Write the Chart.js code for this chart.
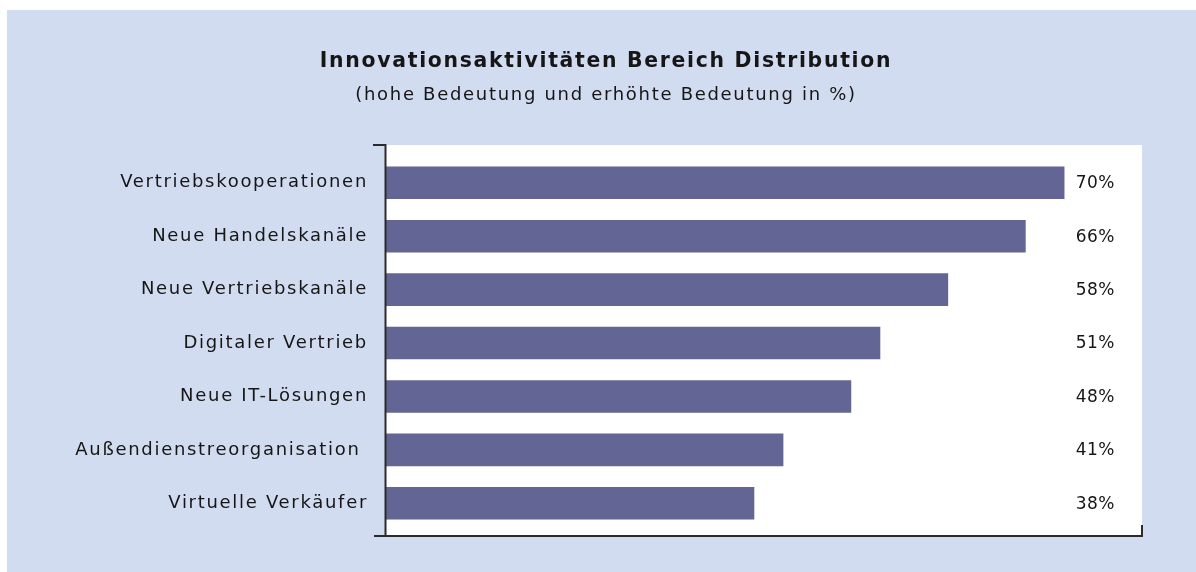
<!DOCTYPE html>
<html>
<head>
<meta charset="utf-8">
<script src="https://cdn.jsdelivr.net/npm/chart.js@4"></script>
<style>
  html, body { margin: 0; background: #fff; }
  #panel { position: absolute; left: 7px; top: 10px; width: 1189px; height: 562px; background: #d2dcf0; }
</style>
</head>
<body>
<div id="panel"><canvas id="chart" width="1189" height="562"></canvas></div>
<script>
// Innovationsaktivitäten Bereich Distribution
const categories = [
  'Vertriebskooperationen',
  'Neue Handelskanäle',
  'Neue Vertriebskanäle',
  'Digitaler Vertrieb',
  'Neue IT-Lösungen',
  'Außendienstreorganisation ',
  'Virtuelle Verkäufer'
];
const values = [70, 66, 58, 51, 48, 41, 38];
const valueLabels = ['70%', '66%', '58%', '51%', '48%', '41%', '38%'];
const titleText = 'Innovationsaktivitäten Bereich Distribution';
const subtitleText = '(hohe Bedeutung und erhöhte Bedeutung in %)';

const FONT = 'DejaVu Sans';
const INK = '#161616';

// white plot box, axis lines, value labels
const frame = {
  id: 'frame',
  beforeDraw(chart) {
    chart.ctx.letterSpacing = '1.7px';
  },
  beforeDatasetsDraw(chart) {
    const { ctx, chartArea: a } = chart;
    ctx.save();
    ctx.fillStyle = '#fff';
    ctx.fillRect(a.left, a.top - 11, a.right - a.left, a.bottom - a.top + 17);
    ctx.restore();
  },
  afterDatasetsDraw(chart) {
    const { ctx, chartArea: a } = chart;
    const top = a.top - 11, bottom = a.bottom + 6;
    ctx.save();
    ctx.letterSpacing = '0.5px';
    ctx.font = '17px "' + FONT + '"';
    ctx.fillStyle = INK;
    ctx.textAlign = 'right';
    ctx.textBaseline = 'middle';
    chart.getDatasetMeta(0).data.forEach((bar, i) => {
      ctx.fillText(valueLabels[i], a.right - 27, bar.y + 1);
    });
    ctx.strokeStyle = '#2b2b2b';
    ctx.lineWidth = 2;
    ctx.beginPath();
    ctx.moveTo(a.left - 13, top);
    ctx.lineTo(a.left - 0.5, top);
    ctx.lineTo(a.left - 0.5, bottom);
    ctx.moveTo(a.left - 12, bottom);
    ctx.lineTo(a.right, bottom);
    ctx.lineTo(a.right, bottom - 11);
    ctx.stroke();
    ctx.restore();
  }
};

new Chart(document.getElementById('chart'), {
  type: 'bar',
  data: {
    labels: categories,
    datasets: [{
      data: values,
      backgroundColor: '#636594',
      borderWidth: 0,
      barPercentage: 0.61,
      categoryPercentage: 1.0
    }]
  },
  options: {
    indexAxis: 'y',
    responsive: false,
    animation: false,
    layout: { padding: { left: 63, right: 54, top: 0, bottom: 42 } },
    plugins: {
      legend: { display: false },
      tooltip: { enabled: false },
      title: {
        display: true,
        text: titleText,
        color: INK,
        font: { family: FONT, size: 20.4, weight: 'bold' },
        padding: { top: 39, bottom: 11 }
      },
      subtitle: {
        display: true,
        text: subtitleText,
        color: INK,
        font: { family: FONT, size: 18 },
        padding: { top: 0, bottom: 50 }
      }
    },
    scales: {
      x: { display: false, min: 0, max: 78 },
      y: {
        grid: { display: false, drawTicks: false },
        border: { display: false },
        ticks: { padding: 18, color: INK, font: { family: FONT, size: 18 } },
        afterFit(scale) { scale.width = 316; }
      }
    }
  },
  plugins: [frame]
});
</script>
</body>
</html>
